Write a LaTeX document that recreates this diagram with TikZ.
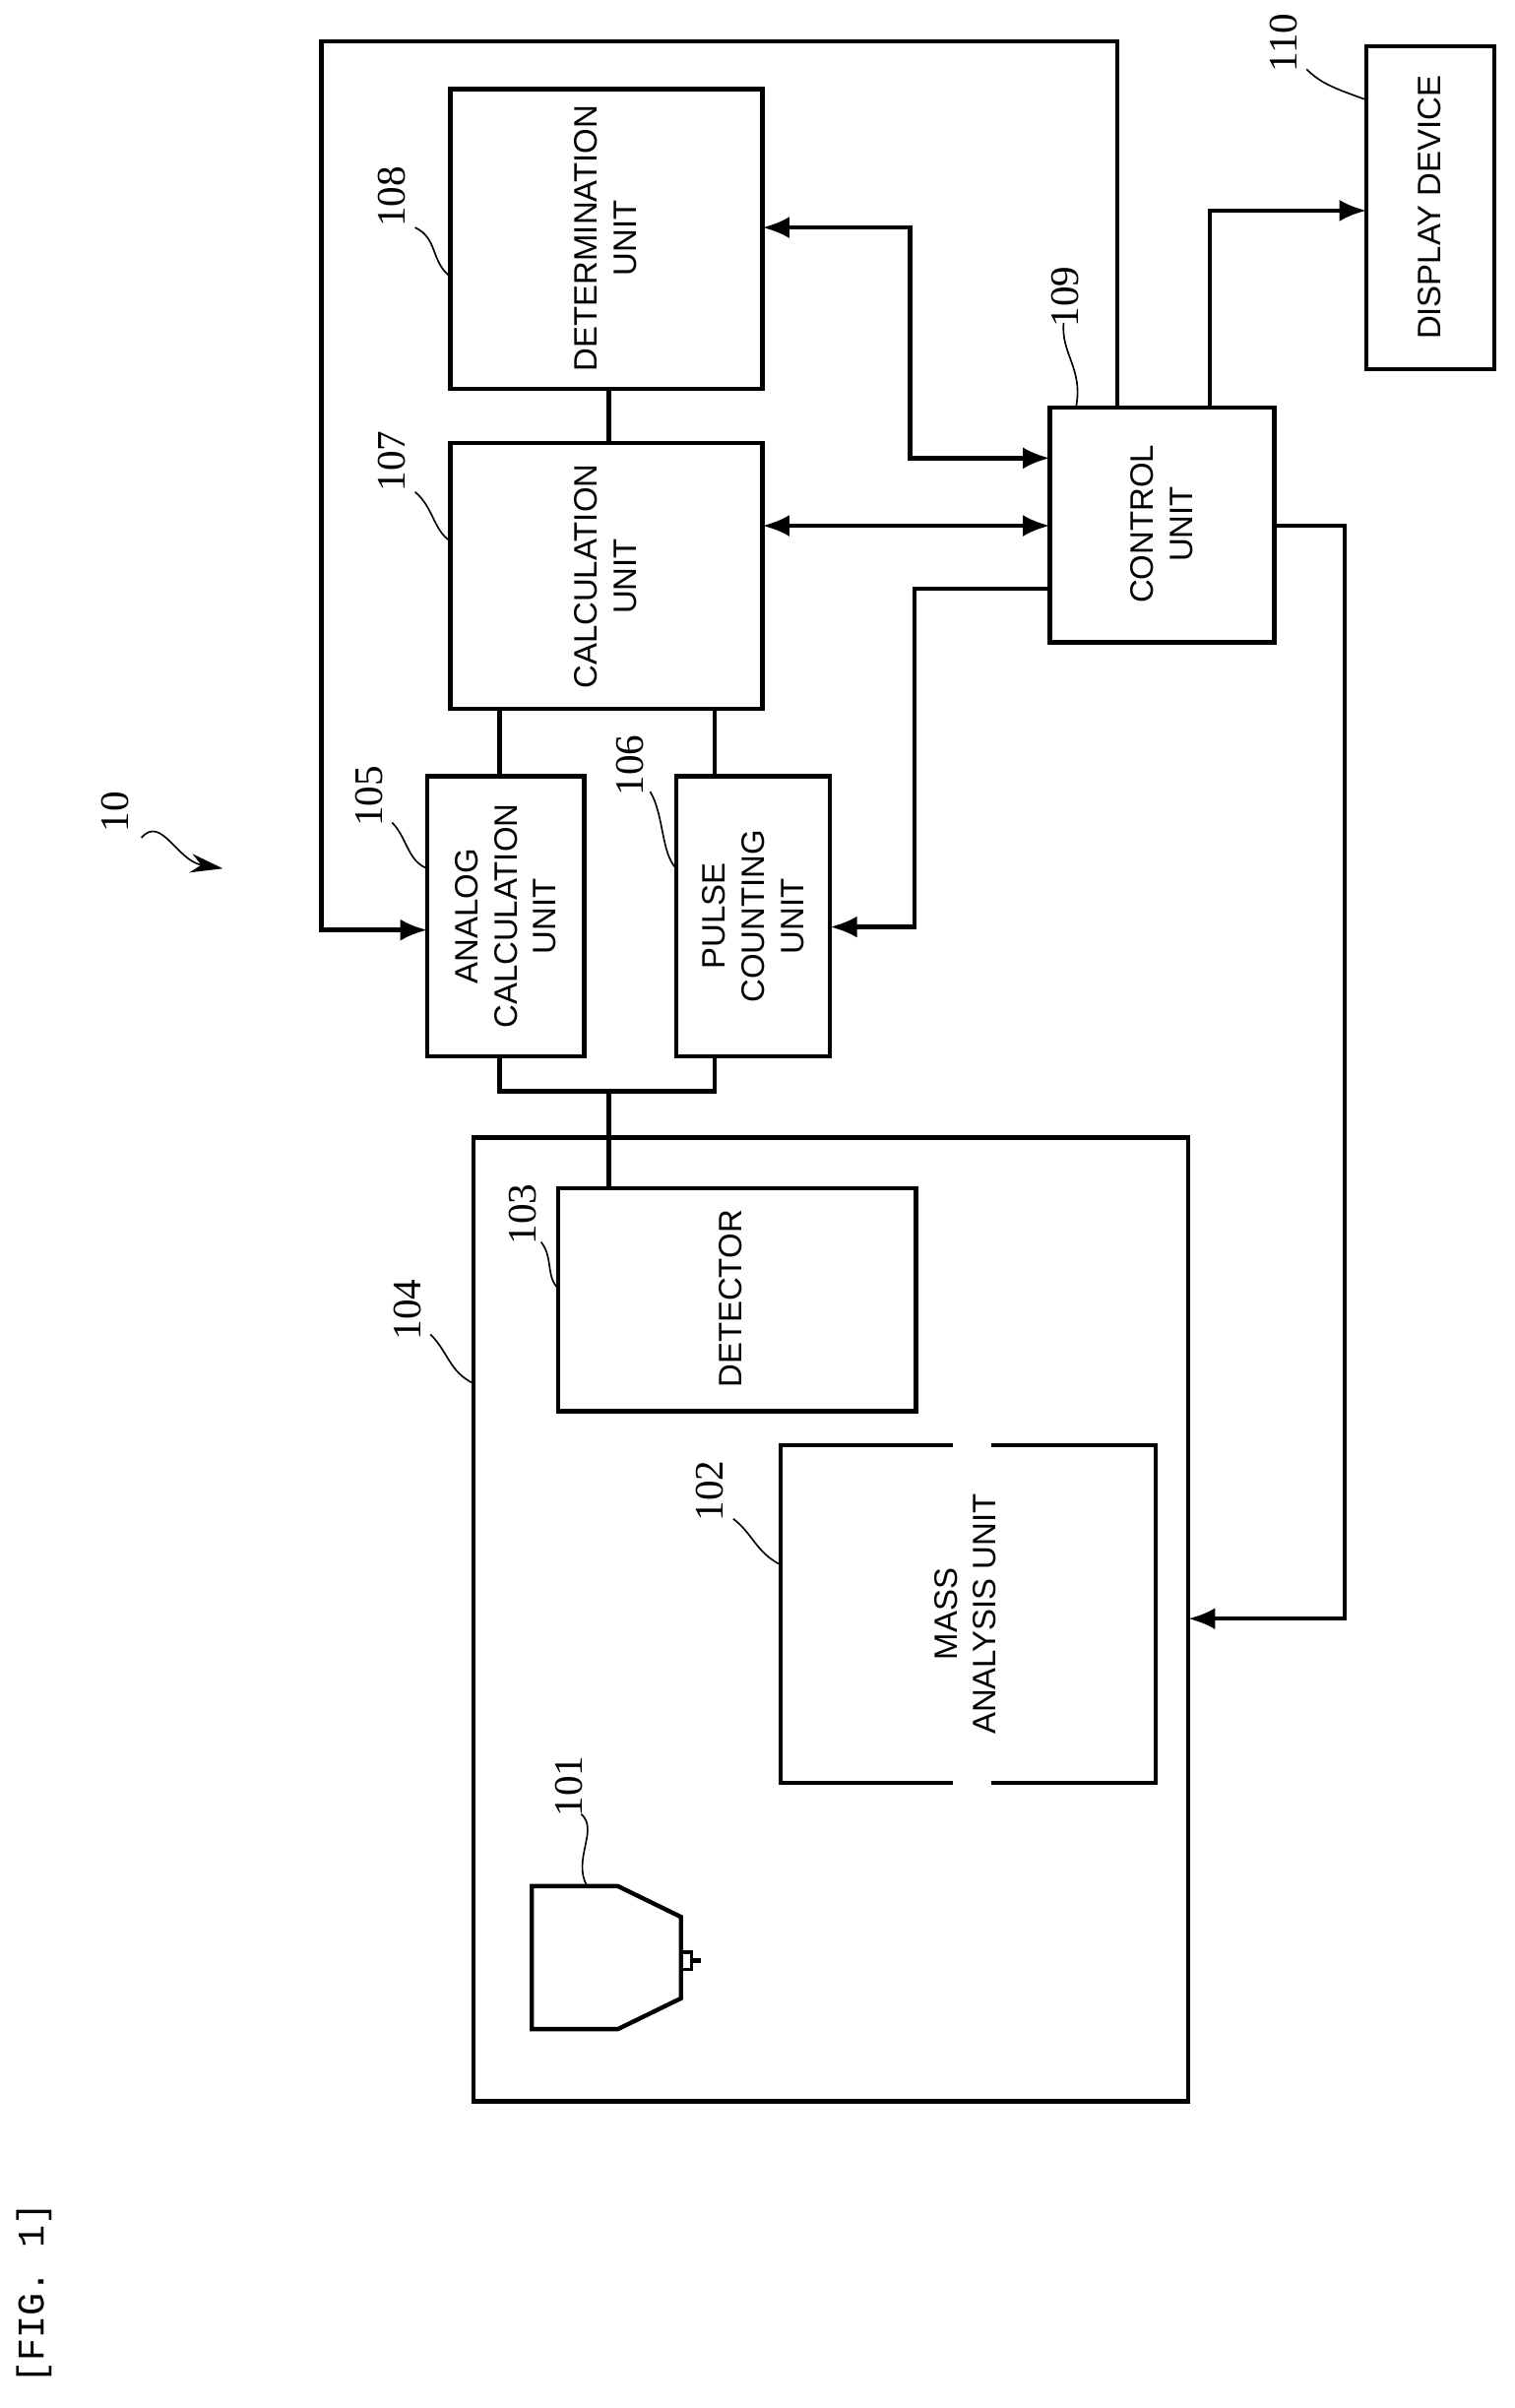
\documentclass[tikz,border=0pt]{standalone}
\usepackage{fontspec}
\setmainfont{Liberation Serif}
\setsansfont{Liberation Sans}
\setmonofont{Liberation Mono}
\usetikzlibrary{arrows.meta}
\begin{document}
\begin{tikzpicture}[x=0.2mm,y=-0.2mm,
  box/.style={draw,line width=1.6pt,inner sep=0pt},
  txt/.style={rotate=90,align=center,font=\sffamily\fontsize{12}{14.5}\selectfont},
  lab/.style={rotate=90,font=\rmfamily\fontsize{15}{17}\selectfont},
  ln/.style={line width=1.6pt},
  ar/.style={line width=1.6pt,-{Latex[length=10pt,width=8pt]}},
  dar/.style={line width=1.6pt,{Latex[length=10pt,width=8pt]}-{Latex[length=10pt,width=8pt]}},
  lead/.style={line width=0.6pt}]
\useasboundingbox (0,0) rectangle (985,1566.5);
\fill[white] (0,0) rectangle (985,1566.5);
% boxes
\draw[box] (293,58) rectangle (496,253);
\node[txt] (b108) at (394,155) {DETERMINATION\\UNIT};
\draw[box] (293,288) rectangle (496,461);
\node[txt] (b107) at (394,375) {CALCULATION\\UNIT};
\draw[box] (278,505) rectangle (380,687);
\node[txt] (b105) at (329,596) {ANALOG\\CALCULATION\\UNIT};
\draw[box] (440,505) rectangle (540,687);
\node[txt] (b106) at (490,596) {PULSE\\COUNTING\\UNIT};
\draw[box] (308,740) rectangle (773,1367);
\draw[box] (363,773) rectangle (596,918);
\node[txt] (b103) at (475,845) {DETECTOR};
\draw[ln] (620,940) -- (508,940) -- (508,1160) -- (620,1160);
\draw[ln] (645,940) -- (752,940) -- (752,1160) -- (645,1160);
\node[txt] (b102) at (628,1050) {MASS\\ANALYSIS UNIT};
\draw[ln] (402,1227) -- (346,1227) -- (346,1320) -- (402,1320) -- (443,1300) -- (443,1247) -- cycle;
\draw[line width=1.2pt] (443,1270) rectangle (450,1281);
\draw[line width=2pt] (450,1275.5) -- (456,1275.5);
\draw[box] (683,265) rectangle (829,418);
\node[txt] (b109) at (756,341) {CONTROL\\UNIT};
\draw[box] (889,30) rectangle (972,240);
\node[txt] (b110) at (930,135) {DISPLAY DEVICE};
% connections
\draw[ar] (727,265) -- (727,27) -- (209,27) -- (209,605) -- (278,605);
\draw[ln] (396,253) -- (396,288);
\draw[ln] (325,461) -- (325,505);
\draw[ln] (465,461) -- (465,505);
\draw[ln] (325,687) -- (325,710) -- (465,710) -- (465,687);
\draw[ln] (396,710) -- (396,773);
\draw[dar] (683,298) -- (592,298) -- (592,148) -- (496,148);
\draw[dar] (496,342) -- (683,342);
\draw[ar] (683,383) -- (595,383) -- (595,603) -- (540,603);
\draw[ar] (787,265) -- (787,137) -- (889,137);
\draw[ar] (829,342) -- (875,342) -- (875,1053) -- (773,1053);
% labels
\node[lab] (l10) at (75,528) {10};
\draw[lead,-{Stealth[length=12pt,width=7pt]}] (92,545) .. controls (105,530) and (115,560) .. (145,565);
\node[lab] (l108) at (255,128) {108};
\draw[lead] (270,148) .. controls (285,155) and (280,170) .. (293,180);
\node[lab] (l107) at (255,300) {107};
\draw[lead] (270,320) .. controls (282,330) and (282,345) .. (293,352);
\node[lab] (l105) at (240,518) {105};
\draw[lead] (255,535) .. controls (265,545) and (265,560) .. (278,565);
\node[lab] (l106) at (410,498) {106};
\draw[lead] (423,515) .. controls (432,530) and (430,555) .. (440,565);
\node[lab] (l103) at (340,790) {103};
\draw[lead] (352,808) .. controls (360,818) and (355,830) .. (363,838);
\node[lab] (l104) at (265,852) {104};
\draw[lead] (280,868) .. controls (292,880) and (292,892) .. (308,900);
\node[lab] (l102) at (462,970) {102};
\draw[lead] (477,988) .. controls (490,998) and (492,1010) .. (508,1018);
\node[lab] (l101) at (370,1162) {101};
\draw[lead] (378,1180) .. controls (390,1190) and (372,1210) .. (382,1227);
\node[lab] (l109) at (693,193) {109};
\draw[lead] (692,210) .. controls (690,230) and (705,240) .. (700,265);
\node[lab] (l110) at (835,28) {110};
\draw[lead] (850,45) .. controls (860,55) and (870,58) .. (889,65);
\node[rotate=90,font=\ttfamily\fontsize{14}{16}\selectfont] (fig) at (22,1492) {[FIG. 1]};
\end{tikzpicture}
\end{document}
